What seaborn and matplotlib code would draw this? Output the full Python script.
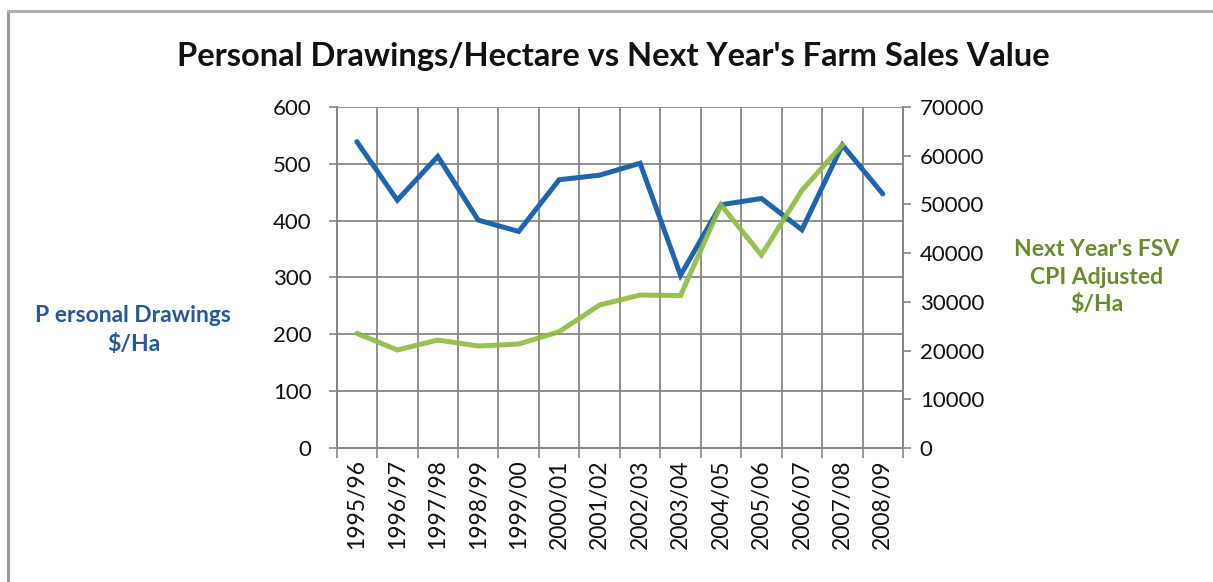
import matplotlib
matplotlib.use("Agg")
import matplotlib.pyplot as plt
from matplotlib.lines import Line2D
import seaborn as sns
import pandas as pd
import numpy as np

seasons = ["1995/96", "1996/97", "1997/98", "1998/99", "1999/00", "2000/01", "2001/02",
           "2002/03", "2003/04", "2004/05", "2005/06", "2006/07", "2007/08", "2008/09"]
drawings = [539, 436, 513, 401, 381, 472, 480, 501, 304, 428, 439, 384, 533, 447]
fsv_next = [23550, 20120, 22170, 20940, 21350, 23870, 29360, 31400, 31300, 49900,
            39600, 52900, 62200]

left_ticks = [0, 100, 200, 300, 400, 500, 600]
right_ticks = [0, 10000, 20000, 30000, 40000, 50000, 60000, 70000]

BLUE = "#1F64AE"
GREEN = "#8DBB3E"
GRID = "#878787"

sns.set_theme(style="white")
plt.rcParams["font.family"] = ["Lato", "DejaVu Sans"]

fig = plt.figure(figsize=(12.13, 5.82), dpi=100)
ax = fig.add_axes([0.2775, 0.2302, 0.4670, 0.5860])
ax2 = ax.twinx()

x_idx = np.arange(len(seasons))
df_d = pd.DataFrame({"x": x_idx, "value": drawings})
df_f = pd.DataFrame({"x": x_idx[:len(fsv_next)], "value": fsv_next})

sns.lineplot(data=df_d, x="x", y="value", ax=ax, color=BLUE, linewidth=3.6,
             solid_capstyle="round", solid_joinstyle="miter", zorder=3)
sns.lineplot(data=df_f, x="x", y="value", ax=ax2, color=GREEN, linewidth=3.6,
             alpha=0.9, solid_capstyle="round", solid_joinstyle="miter", zorder=3)

# category boundaries as grid / tick marks, labels centred on categories
ax.set_xlim(-0.5, len(seasons) - 0.5)
ax.set_xticks(np.arange(-0.5, len(seasons), 1.0))
ax.set_xticklabels([])
ax.set_xticks(x_idx, minor=True)
ax.set_xticklabels(seasons, minor=True, rotation=90, fontsize=16.5, color="#111111")
ax.tick_params(axis="x", which="major", length=7, width=1.2, color=GRID, direction="out", bottom=True)
ax.tick_params(axis="x", which="minor", length=0, pad=8)

ax.set_ylim(0, 600)
ax.set_yticks(left_ticks)
ax.set_yticklabels([str(v) for v in left_ticks], fontsize=16, color="#111111")
ax.tick_params(axis="y", length=6, width=1.2, color=GRID, direction="out", left=True, pad=12)

ax2.set_ylim(0, 70000)
ax2.set_yticks(right_ticks)
ax2.set_yticklabels([str(v) for v in right_ticks], fontsize=16, color="#111111")
ax2.tick_params(axis="y", length=6, width=1.2, color=GRID, direction="out", right=True, pad=6)

ax.grid(True, which="major", axis="both", color=GRID, linewidth=1.3)
ax.set_axisbelow(True)
ax.set_xlabel("")
ax.set_ylabel("")
ax2.set_ylabel("")
ax2.set_xlabel("")
ax2.grid(False)

for a in (ax, ax2):
    a.spines["top"].set_visible(False)
    for side in ("left", "right", "bottom"):
        a.spines[side].set_color(GRID)
        a.spines[side].set_linewidth(1.3)

fig.text(0.506, 0.903, "Personal Drawings/Hectare vs Next Year's Farm Sales Value",
         ha="center", va="center", fontsize=23.5, fontweight="bold", color="#111111")

fig.text(0.110, 0.433, "P ersonal Drawings\n$/Ha", ha="center", va="center",
         fontsize=16.5, fontweight="bold", color="#26589A", linespacing=1.45)
fig.text(0.904, 0.524, "Next Year's FSV\nCPI Adjusted\n$/Ha", ha="center", va="center",
         fontsize=16.5, fontweight="bold", color="#6A8C2C", linespacing=1.4)

# chart frame
fig.add_artist(Line2D([0.0066, 0.0066], [0.0, 0.981], color="#9A9A9A", linewidth=2.2))
fig.add_artist(Line2D([0.0066, 1.0], [0.981, 0.981], color="#B0B0B0", linewidth=2.2))

fig.savefig("out.png", dpi=100, facecolor="white")
